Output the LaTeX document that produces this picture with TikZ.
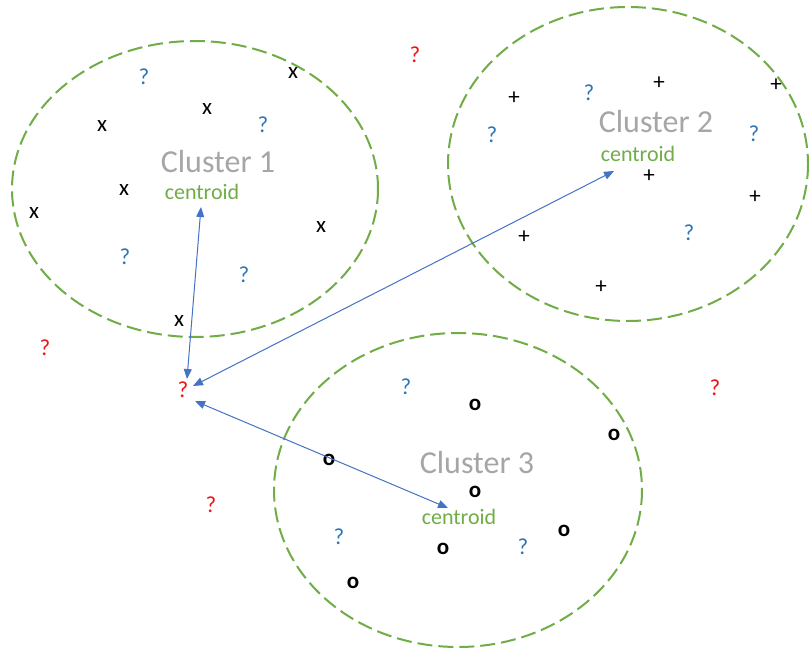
\documentclass[tikz,border=0pt]{standalone}
\usepackage{fontspec}
\setmainfont{Carlito}
\usetikzlibrary{arrows.meta}
\definecolor{cgreen}{RGB}{112,173,71}
\definecolor{cblue}{RGB}{46,117,182}
\definecolor{cred}{RGB}{235,20,20}
\definecolor{cgray}{RGB}{166,166,166}
\definecolor{carrow}{RGB}{68,114,196}
\tikzset{
  clus/.style={draw=cgreen, line width=2pt, dash pattern=on 15pt off 6pt},
  clabel/.style={text=cgray, font=\fontsize{32}{38}\selectfont, inner sep=0pt},
  cent/.style={text=cgreen, font=\fontsize{22}{26}\selectfont, inner sep=0pt},
  mk/.style={font=\fontsize{23}{27}\selectfont, inner sep=0pt},
  ring/.style={font=\fontsize{23}{27}\selectfont\bfseries, inner sep=0pt},
  unk/.style={mk, text=cblue},
  qry/.style={mk, text=cred},
  link/.style={draw=carrow, line width=1pt, {Triangle[length=10pt,width=8pt]}-{Triangle[length=10pt,width=8pt]}}
}
\begin{document}
\begin{tikzpicture}[x=1pt,y=-1pt]
\useasboundingbox (0,0) rectangle (809,653);
\fill[white] (0,0) rectangle (809,653);
% clusters
\draw[clus] (195,189) ellipse [x radius=183, y radius=148];
\draw[clus] (628,164) ellipse [x radius=180, y radius=157];
\draw[clus] (458,490) ellipse [x radius=184, y radius=157];
% labels
\node[clabel] (l1) at (218,162) {Cluster 1};
\node[clabel] (l2) at (656,122) {Cluster 2};
\node[clabel] (l3) at (477,463) {Cluster 3};
\node[cent] (ce1) at (202,192) {centroid};
\node[cent] (ce2) at (638,154) {centroid};
\node[cent] (ce3) at (459,517) {centroid};
% cluster 1 points
\node[mk] (a1) at (293,73) {x};
\node[mk] (a2) at (207,109) {x};
\node[mk] (a3) at (102,126) {x};
\node[mk] (a4) at (124,190) {x};
\node[mk] (a5) at (34,213) {x};
\node[mk] (a6) at (321,227) {x};
\node[mk] (a7) at (179,321) {x};
\node[unk] (u1) at (144,77) {?};
\node[unk] (u2) at (263,125) {?};
\node[unk] (u3) at (125,257) {?};
\node[unk] (u4) at (244,275) {?};
% cluster 2 points
\node[mk] (b1) at (514,98) {+};
\node[mk] (b2) at (659,83) {+};
\node[mk] (b3) at (776,85) {+};
\node[mk] (b4) at (649,176) {+};
\node[mk] (b5) at (755,197) {+};
\node[mk] (b6) at (524,237) {+};
\node[mk] (b7) at (601,287) {+};
\node[unk] (u5) at (589,93) {?};
\node[unk] (u6) at (492,135) {?};
\node[unk] (u7) at (754,134) {?};
\node[unk] (u8) at (689,233) {?};
% cluster 3 points
\node[ring] (o1) at (475,405) {o};
\node[ring] (o2) at (614,435) {o};
\node[ring] (o3) at (329,460) {o};
\node[ring] (o4) at (475,492) {o};
\node[ring] (o5) at (564,531) {o};
\node[ring] (o6) at (443,549) {o};
\node[ring] (o7) at (353,583) {o};
\node[unk] (u9) at (406,387) {?};
\node[unk] (u10) at (339,537) {?};
\node[unk] (u11) at (523,547) {?};
% red query points
\node[qry] (r1) at (415,55) {?};
\node[qry] (r2) at (45,348) {?};
\node[qry] (q) at (183,390) {?};
\node[qry] (r4) at (715,388) {?};
\node[qry] (r5) at (211,505) {?};
% arrow ends
\coordinate (c1) at (201,207);
\coordinate (c2) at (614,171);
\coordinate (c3) at (448,508);
\coordinate (p1) at (187,379);
\coordinate (p2) at (193,386);
\coordinate (p3) at (195,401);
\draw[link] (c1) -- (p1);
\draw[link] (c2) -- (p2);
\draw[link] (c3) -- (p3);
\end{tikzpicture}
\end{document}
